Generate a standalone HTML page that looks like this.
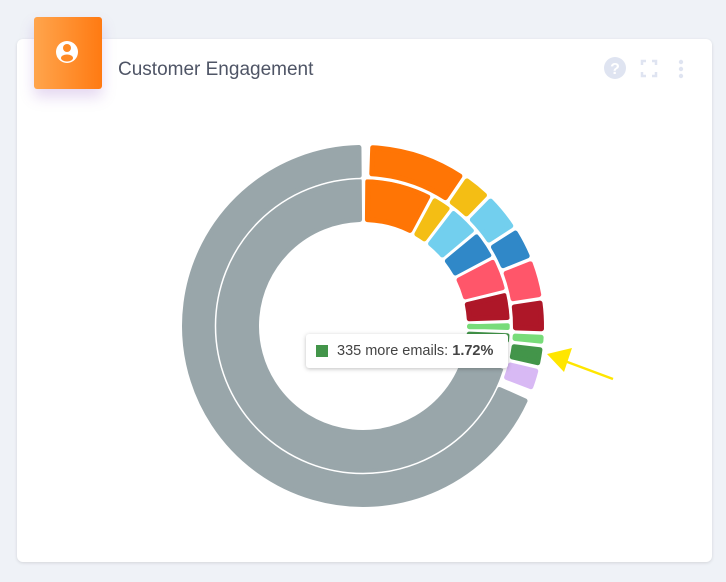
<!DOCTYPE html>
<html><head><meta charset="utf-8"><style>
html,body{margin:0;padding:0;width:726px;height:582px;background:#eff2f7;overflow:hidden;font-family:"Liberation Sans",sans-serif}
.card{position:absolute;left:17px;top:39px;width:695px;height:523px;background:#fff;border-radius:6px;box-shadow:0 1px 3px rgba(0,0,0,.12)}
.ic{position:absolute;left:34px;top:17px;width:68px;height:72px;border-radius:3px;background:linear-gradient(90deg,#ffa54d,#ff7a12);box-shadow:0 8px 14px rgba(150,100,200,.25)}
.title{position:absolute;left:118px;top:59px;font-size:19px;color:#4f5566;font-weight:300}
.tip{position:absolute;left:306px;top:334px;width:202px;height:34px;background:#fff;border-radius:3px;box-shadow:0 1px 4px rgba(0,0,0,.25);font-size:14.5px;color:#444;line-height:34px}
.tip span.sq{position:absolute;left:10px;top:11px;width:12px;height:12px;background:#43954a}
</style></head><body>
<div class="card"></div>
<div class="ic"><svg width="68" height="72"><circle cx="33" cy="35" r="11" fill="#fff"/><circle cx="33" cy="31" r="4" fill="#ff8a25"/><ellipse cx="33" cy="41" rx="6" ry="3.5" fill="#ff8a25"/></svg></div>
<div class="title">Customer Engagement</div>
<svg style="position:absolute;left:600px;top:55px" width="100" height="30">
<circle cx="15" cy="13" r="11" fill="#dfe4f1"/><text x="15" y="19" font-size="16" font-weight="bold" fill="#fff" text-anchor="middle" font-family="Liberation Sans">?</text>
<path d="M42 10v-4h4M52 6h4v4M56 17v4h-4M46 21h-4v-4" stroke="#dfe4f1" stroke-width="2.5" fill="none"/>
<circle cx="81" cy="7" r="2.2" fill="#dfe4f1"/><circle cx="81" cy="14" r="2.2" fill="#dfe4f1"/><circle cx="81" cy="21" r="2.2" fill="#dfe4f1"/>
</svg>
<svg id="ch" style="position:absolute;left:0;top:0" width="726" height="582"></svg>
<div class="tip"><span class="sq"></span><span style="position:absolute;left:31px">335 more emails: <b>1.72%</b></span></div>
<script>
var cx=363,cy=326,s=document.getElementById('ch'),h='';
function pt(r,a){a=a*Math.PI/180;return [cx+r*Math.sin(a),cy-r*Math.cos(a)];}
function seg(r0,r1,a0,a1,c,p){p=p||3.5;var ra=r0+p,rb=r1-p;var d0=a0+p/ra*57.3,d1=a1-p/ra*57.3;var e0=a0+p/rb*57.3,e1=a1-p/rb*57.3;
var L=(d1-d0)>180?1:0;var A=pt(rb,e0),B=pt(rb,e1),C=pt(ra,d1),D=pt(ra,d0);
h+='<path d="M'+A+'A'+rb+','+rb+' 0 '+L+' 1 '+B+'L'+C+'A'+ra+','+ra+' 0 '+L+' 0 '+D+'Z" fill="'+c+'" stroke="'+c+'" stroke-width="5" stroke-linejoin="round"/>';}
var G='#99a6aa';
var outer=[[2,34,'#ff7505'],[34.5,44,'#f4be14'],[44.5,57,'#72cfee'],[57.5,68,'#3088c8'],[68.5,81,'#ff566a'],[81.5,92,'#ae1728'],[92.5,96,'#78dc7a'],[96.5,103,'#43954a'],[103.5,111,'#d8b9f4']];
var inner=[[0.5,28,'#ff7505'],[28.5,37,'#f4be14'],[37.5,50,'#72cfee'],[50.5,62,'#3088c8'],[62.5,76,'#ff566a'],[76.5,88,'#ae1728'],[88.5,92,'#78dc7a'],[92.5,97,'#43954a'],[97.5,105,'#d8b9f4']];
outer.forEach(function(x){seg(149,182,x[0],x[1],x[2]);});
inner.forEach(function(x){seg(103,148,x[0],x[1],x[2]);});
seg(148,181,114,359.5,G,2.5);seg(104,148,107,359.5,G,2.5);
h+='<circle cx="'+cx+'" cy="'+cy+'" r="147.5" fill="none" stroke="#fff" stroke-width="1.5"/>';
h+='<line x1="613" y1="379" x2="562" y2="360" stroke="#ffe600" stroke-width="2.5"/><polygon points="547,354 572,348 564,372" fill="#ffe600"/>';
s.innerHTML=h;
</script>
</body></html>
